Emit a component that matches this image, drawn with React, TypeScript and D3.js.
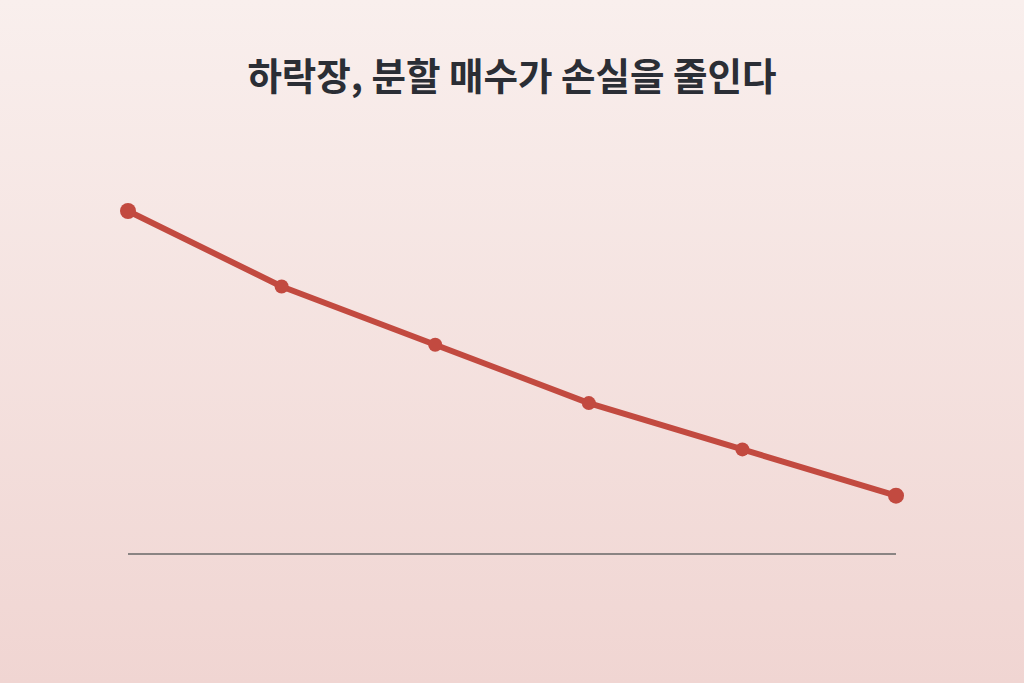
import * as d3 from 'd3';

const periods = ['1', '2', '3', '4', '5', '6'];
const lossValues = [100, 78, 61, 44, 30.5, 17];

const W = 1024;
const H = 683;

export default function App() {
  const x = d3.scalePoint<string>().domain(periods).range([128, 896]);
  const y = d3.scaleLinear().domain([0, 100]).range([554, 211]);

  const line = d3
    .line<number>()
    .x((_, i) => x(periods[i]) as number)
    .y(d => y(d));

  return (
    <svg
      width={W}
      height={H}
      style={{ position: 'absolute', left: 0, top: 0, display: 'block' }}
    >
      <defs>
        <linearGradient id="bg" x1="0" y1="0" x2="0" y2="1">
          <stop offset="0%" stopColor="#f9efed" />
          <stop offset="100%" stopColor="#f0d5d2" />
        </linearGradient>
      </defs>
      <rect width={W} height={H} fill="url(#bg)" />
      <text
        x={W / 2}
        y={90}
        textAnchor="middle"
        fontFamily="'Noto Sans CJK KR', 'Noto Sans', sans-serif"
        fontWeight={700}
        fontSize={37.5}
        fill="#2b2e35"
      >
        하락장, 분할 매수가 손실을 줄인다
      </text>
      <line
        x1={x(periods[0])}
        x2={x(periods[periods.length - 1])}
        y1={y(0)}
        y2={y(0)}
        stroke="#8a8483"
        strokeWidth={2}
      />
      <path
        d={line(lossValues) ?? ''}
        fill="none"
        stroke="#c24a40"
        strokeWidth={6}
        strokeLinejoin="round"
      />
      {lossValues.map((v, i) => (
        <circle
          key={periods[i]}
          cx={x(periods[i])}
          cy={y(v)}
          r={i === 0 || i === lossValues.length - 1 ? 8 : 7}
          fill="#c24a40"
        />
      ))}
    </svg>
  );
}
